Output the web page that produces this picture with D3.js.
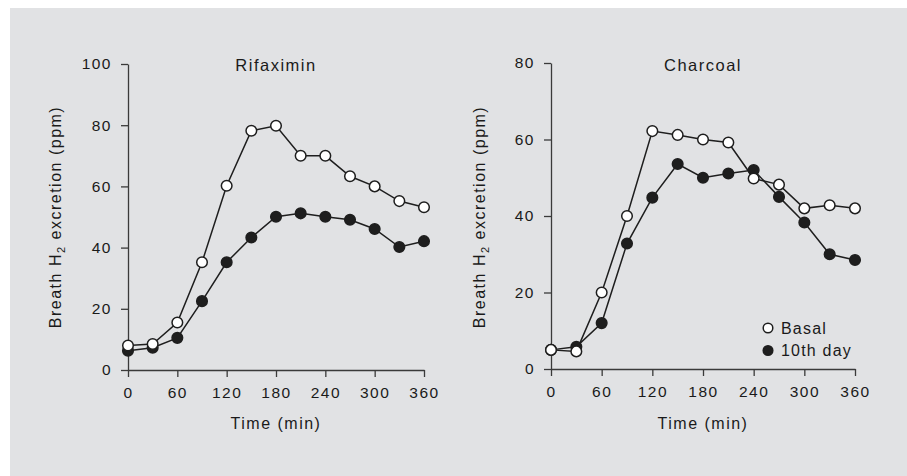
<!DOCTYPE html>
<html>
<head>
<meta charset="utf-8">
<script src="https://cdn.jsdelivr.net/npm/d3@7"></script>
<style>
  html, body { margin: 0; padding: 0; background: #ffffff; }
  svg text { font-family: "Liberation Sans", Arial, Helvetica, sans-serif; fill: #1a1a1a; }
</style>
</head>
<body>
<svg id="chart" width="907" height="476"></svg>
<script>
// Sampling times (min)
const times = [0, 30, 60, 90, 120, 150, 180, 210, 240, 270, 300, 330, 360];

// Rifaximin panel: breath H2 (ppm)
const rifaximinBasal = [8, 8.5, 15.5, 35.2, 60.2, 78.2, 79.8, 70, 70, 63.3, 60, 55.2, 53.2];
const rifaximinDay10 = [6.3, 7.3, 10.5, 22.5, 35.2, 43.3, 50.1, 51.2, 50.1, 49.1, 46.1, 40.2, 42.1];

// Charcoal panel: breath H2 (ppm)
const charcoalBasal = [5, 4.6, 20, 40, 62.2, 61.2, 60, 59.2, 49.8, 48.2, 42, 42.8, 42];
const charcoalDay10 = [5, 5.8, 12, 32.8, 44.8, 53.6, 50, 51.1, 52, 45, 38.3, 30, 28.5];

const xTicks = [0, 60, 120, 180, 240, 300, 360];
const rifaximinYTicks = [0, 20, 40, 60, 80, 100];
const charcoalYTicks = [0, 20, 40, 60, 80];

const seriesNames = ["Basal", "10th day"];

const svg = d3.select("#chart");
const ink = "#1e1e1e";
const ls = "1.5px";

// panel background
svg.append("rect")
  .attr("x", 10).attr("y", 8)
  .attr("width", 897).attr("height", 468)
  .attr("fill", "#e1e2e4");

function drawPanel(cfg) {
  const x = d3.scaleLinear().domain([0, 360]).range([cfg.x0, cfg.x1]);
  const y = d3.scaleLinear().domain([0, cfg.yMax]).range([cfg.yBottom, cfg.yTop]);
  const g = svg.append("g");

  // y axis
  const yAxis = g.append("g")
    .attr("transform", `translate(${cfg.x0},0)`)
    .call(d3.axisLeft(y).tickValues(cfg.yTicks).tickSize(7).tickSizeOuter(0).tickPadding(9));
  // x axis
  const xAxis = g.append("g")
    .attr("transform", `translate(0,${cfg.yBottom})`)
    .call(d3.axisBottom(x).tickValues(xTicks).tickSize(7).tickSizeOuter(0).tickPadding(10));

  [yAxis, xAxis].forEach(a => {
    a.select(".domain").attr("stroke", "#3a3a3a").attr("stroke-width", 1.3);
    a.selectAll(".tick line").attr("stroke", "#3a3a3a").attr("stroke-width", 1.3);
    a.selectAll(".tick text")
      .attr("font-size", 15.5)
      .attr("fill", ink)
      .style("letter-spacing", ls)
      .attr("font-family", "Liberation Sans, Arial, sans-serif");
  });

  // title
  g.append("text")
    .attr("x", (cfg.x0 + cfg.x1) / 2)
    .attr("y", 71)
    .attr("text-anchor", "middle")
    .attr("font-size", 16.5)
    .style("letter-spacing", ls)
    .text(cfg.title);

  // x label
  g.append("text")
    .attr("x", (cfg.x0 + cfg.x1) / 2)
    .attr("y", 429)
    .attr("text-anchor", "middle")
    .attr("font-size", 16)
    .style("letter-spacing", ls)
    .text("Time (min)");

  // y label with subscript
  const yl = g.append("text")
    .attr("transform", `translate(${cfg.labelX},217) rotate(-90)`)
    .attr("text-anchor", "middle")
    .attr("font-size", 16)
    .style("letter-spacing", ls);
  yl.append("tspan").text("Breath H");
  yl.append("tspan").attr("font-size", 11).attr("dy", 4).text("2");
  yl.append("tspan").attr("dy", -4).text(" excretion (ppm)");

  const line = d3.line().x((d, i) => x(times[i])).y(d => y(d));

  // 10th day drawn first, basal on top
  const series = [
    { values: cfg.day10, fill: ink },
    { values: cfg.basal, fill: "#ffffff" }
  ];
  series.forEach(s => {
    g.append("path")
      .datum(s.values)
      .attr("fill", "none")
      .attr("stroke", ink)
      .attr("stroke-width", 1.5)
      .attr("d", line);
  });
  series.forEach(s => {
    g.selectAll(null)
      .data(s.values)
      .enter().append("circle")
      .attr("cx", (d, i) => x(times[i]))
      .attr("cy", d => y(d))
      .attr("r", 5.3)
      .attr("fill", s.fill)
      .attr("stroke", ink)
      .attr("stroke-width", 1.5);
  });
  return { x, y };
}

drawPanel({
  title: "Rifaximin",
  x0: 128, x1: 424, yTop: 64, yBottom: 370, yMax: 100,
  yTicks: rifaximinYTicks, labelX: 61,
  basal: rifaximinBasal, day10: rifaximinDay10
});

drawPanel({
  title: "Charcoal",
  x0: 551, x1: 855, yTop: 63, yBottom: 369, yMax: 80,
  yTicks: charcoalYTicks, labelX: 485,
  basal: charcoalBasal, day10: charcoalDay10
});

// legend
const legend = svg.append("g");
const legendFills = ["#ffffff", ink];
seriesNames.forEach((name, i) => {
  const cy = 328 + i * 22.5;
  legend.append("circle")
    .attr("cx", 768).attr("cy", cy).attr("r", 4.8)
    .attr("fill", legendFills[i])
    .attr("stroke", ink).attr("stroke-width", 1.5);
  legend.append("text")
    .attr("x", 781).attr("y", cy + 5.5)
    .attr("font-size", 16)
    .style("letter-spacing", "1.2px")
    .text(name);
});
</script>
</body>
</html>
